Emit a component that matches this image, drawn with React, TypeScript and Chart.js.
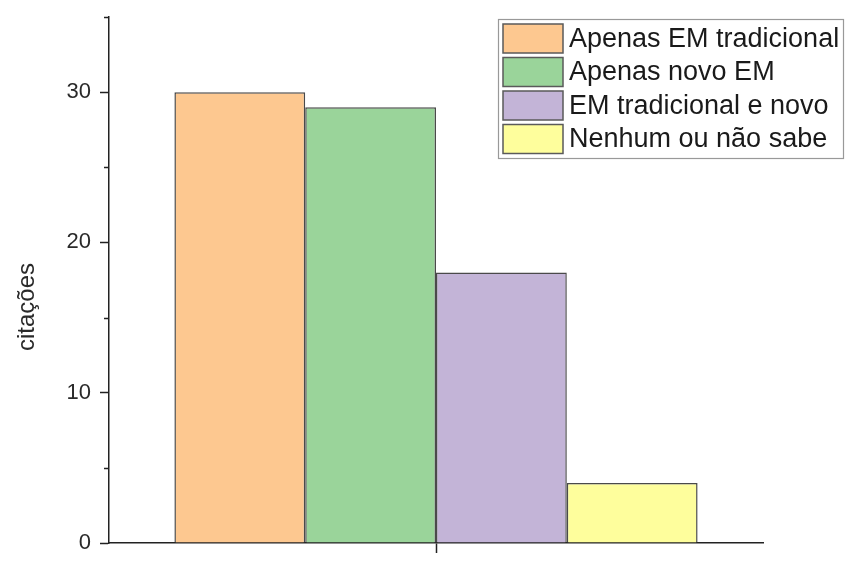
import React, { useEffect, useRef } from "react";
import { Chart, registerables } from "chart.js";

Chart.register(...registerables);

const categories: string[] = [""];
const seriesLabels: string[] = [
  "Apenas EM tradicional",
  "Apenas novo EM",
  "EM tradicional e novo",
  "Nenhum ou não sabe",
];
const seriesValues: number[] = [30, 29, 18, 4];
const seriesColors: string[] = ["#FDC890", "#9AD49A", "#C3B4D7", "#FEFE9C"];
const yMajorTicks: number[] = [0, 10, 20, 30];
const yMinorTicks: number[] = [5, 15, 25, 35];
const yMax = 35;
const yTitle = "citações";

const FONT = "'Liberation Sans', Arial, sans-serif";

const minorTickPlugin = {
  id: "minorTicks",
  afterDraw(chart: any) {
    const y = chart.scales.y;
    const ctx = chart.ctx;
    ctx.save();
    ctx.strokeStyle = "#222";
    ctx.lineWidth = 1.5;
    yMinorTicks.forEach((v) => {
      const py = Math.round(y.getPixelForValue(v)) + 0.5;
      ctx.beginPath();
      ctx.moveTo(y.right, py);
      ctx.lineTo(y.right - 5, py);
      ctx.stroke();
    });
    ctx.restore();
  },
};

const yTitlePlugin = {
  id: "yTitleCustom",
  afterDraw(chart: any) {
    const ctx = chart.ctx;
    ctx.save();
    ctx.translate(27, 307);
    ctx.rotate(-Math.PI / 2);
    ctx.font = `24px ${FONT}`;
    ctx.fillStyle = "#2a2a2a";
    ctx.textAlign = "center";
    ctx.textBaseline = "middle";
    ctx.fillText(yTitle, 0, 0);
    ctx.restore();
  },
};

const legendPlugin = {
  id: "legendBox",
  afterDraw(chart: any) {
    const ctx = chart.ctx;
    ctx.save();
    ctx.strokeStyle = "#999";
    ctx.lineWidth = 1.2;
    ctx.strokeRect(498.5, 19.5, 345, 139);
    const pitch = 33.5;
    chart.data.datasets.forEach((ds: any, i: number) => {
      const top = 24 + i * pitch;
      ctx.fillStyle = ds.backgroundColor;
      ctx.fillRect(503, top, 60, 29);
      ctx.strokeStyle = "#5a5a5a";
      ctx.lineWidth = 1.5;
      ctx.strokeRect(503, top, 60, 29);
      ctx.fillStyle = "#1a1a1a";
      ctx.font = `27px ${FONT}`;
      ctx.textAlign = "left";
      ctx.textBaseline = "alphabetic";
      ctx.fillText(ds.label, 569, top + 22.5);
    });
    ctx.restore();
  },
};

export default function App() {
  const canvasRef = useRef<HTMLCanvasElement | null>(null);

  useEffect(() => {
    if (!canvasRef.current) return;
    const chart = new Chart(canvasRef.current, {
      type: "bar",
      data: {
        labels: categories,
        datasets: seriesLabels.map((label, i) => ({
          label,
          data: [seriesValues[i]],
          backgroundColor: seriesColors[i],
          borderColor: "#4a4a4a",
          borderWidth: 1.5,
          categoryPercentage: 0.8,
          barPercentage: 1.0,
        })),
      },
      options: {
        animation: false,
        responsive: true,
        maintainAspectRatio: false,
        layout: { padding: { left: 0, top: 17, right: 86, bottom: 0 } },
        plugins: {
          legend: { display: false },
          tooltip: { enabled: false },
          title: { display: false },
        },
        scales: {
          x: {
            z: 1,
            grid: {
              display: true,
              drawOnChartArea: false,
              offset: false,
              tickLength: 10,
              tickColor: "#222",
              tickWidth: 1.5,
            },
            border: { display: true, color: "#222", width: 1.5 },
            ticks: { display: true, font: { size: 22, family: FONT }, color: "#2a2a2a" },
            afterFit(scale: any) {
              scale.height = 31;
              scale.paddingLeft = 0;
              scale.paddingRight = 0;
            },
          },
          y: {
            z: 1,
            min: 0,
            max: yMax,
            afterBuildTicks(scale: any) {
              scale.ticks = yMajorTicks.map((v) => ({ value: v }));
            },
            grid: {
              display: true,
              drawOnChartArea: false,
              tickLength: 9,
              tickColor: "#222",
              tickWidth: 1.5,
            },
            border: { display: true, color: "#222", width: 1.5 },
            ticks: {
              font: { size: 22, family: FONT },
              color: "#2a2a2a",
              padding: 9,
            },
            afterFit(scale: any) {
              scale.width = 109;
              scale.paddingTop = 0;
              scale.paddingBottom = 0;
            },
          },
        },
      },
      plugins: [minorTickPlugin, yTitlePlugin, legendPlugin],
    });
    return () => chart.destroy();
  }, []);

  return (
    <div style={{ position: "absolute", left: 0, top: 0, width: 849, height: 574, background: "#fff" }}>
      <canvas ref={canvasRef} style={{ width: 849, height: 574 }} />
    </div>
  );
}
